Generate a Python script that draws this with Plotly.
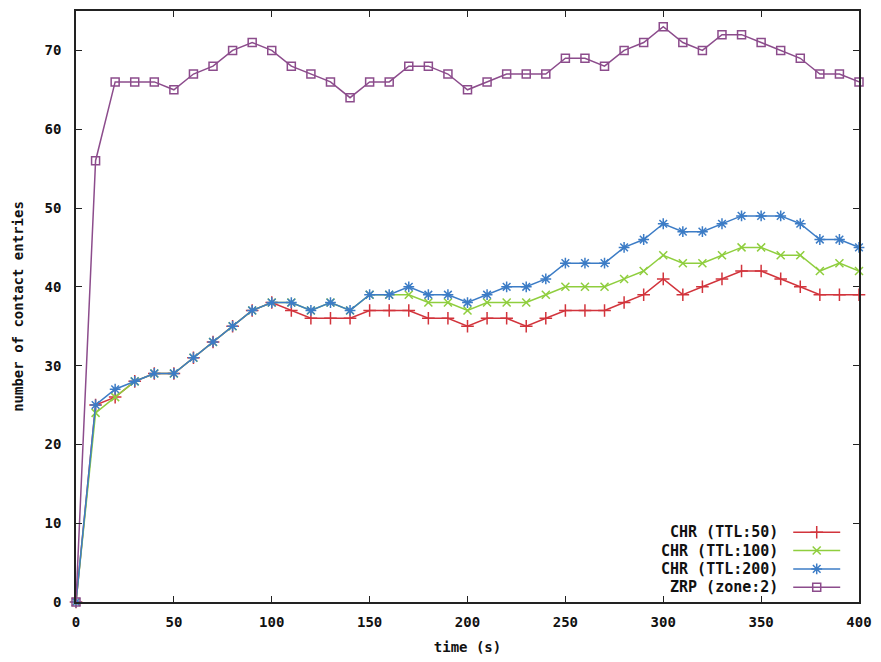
import plotly.graph_objects as go

# ---- data ----
time_s = [0, 10, 20, 30, 40, 50, 60, 70, 80, 90, 100, 110, 120, 130, 140, 150, 160, 170, 180, 190, 200,
          210, 220, 230, 240, 250, 260, 270, 280, 290, 300, 310, 320, 330, 340, 350, 360, 370, 380, 390, 400]

chr_ttl50 = [0, 25, 26, 28, 29, 29, 31, 33, 35, 37, 38, 37, 36, 36, 36, 37, 37, 37, 36, 36, 35,
             36, 36, 35, 36, 37, 37, 37, 38, 39, 41, 39, 40, 41, 42, 42, 41, 40, 39, 39, 39]
chr_ttl100 = [0, 24, 26, 28, 29, 29, 31, 33, 35, 37, 38, 38, 37, 38, 37, 39, 39, 39, 38, 38, 37,
              38, 38, 38, 39, 40, 40, 40, 41, 42, 44, 43, 43, 44, 45, 45, 44, 44, 42, 43, 42]
chr_ttl200 = [0, 25, 27, 28, 29, 29, 31, 33, 35, 37, 38, 38, 37, 38, 37, 39, 39, 40, 39, 39, 38,
              39, 40, 40, 41, 43, 43, 43, 45, 46, 48, 47, 47, 48, 49, 49, 49, 48, 46, 46, 45]
zrp_zone2 = [0, 56, 66, 66, 66, 65, 67, 68, 70, 71, 70, 68, 67, 66, 64, 66, 66, 68, 68, 67, 65,
             66, 67, 67, 67, 69, 69, 68, 70, 71, 73, 71, 70, 72, 72, 71, 70, 69, 67, 67, 66]

series_names = ["CHR (TTL:50)", "CHR (TTL:100)", "CHR (TTL:200)", "ZRP (zone:2)"]
x_ticks = [0, 50, 100, 150, 200, 250, 300, 350, 400]
y_ticks = [0, 10, 20, 30, 40, 50, 60, 70]

# ---- styles ----
FONT = "DejaVu Sans Mono"
colors = ["#d2343c", "#8fce3e", "#3c7cc6", "#8c4c8c"]
symbols = ["cross-thin", "x-thin", "asterisk", "square-open"]
msizes = [9, 8, 9, 8]
values = [chr_ttl50, chr_ttl100, chr_ttl200, zrp_zone2]

fig = go.Figure()

for name, vals, c, s, ms in zip(series_names, values, colors, symbols, msizes):
    fig.add_trace(go.Scatter(
        x=time_s, y=vals, mode="lines+markers", name=name,
        line=dict(color=c, width=1.5),
        marker=dict(symbol=s, size=ms, color=c, line=dict(color=c, width=1.5)),
        cliponaxis=False, showlegend=False,
    ))

# ---- manual gnuplot-style legend (text left, sample right) ----
leg_rows = [0.118, 0.087, 0.056, 0.025]
for name, c, s, ms, yy in zip(series_names, colors, symbols, msizes, leg_rows):
    fig.add_trace(go.Scatter(
        x=[0.916, 0.946, 0.976], y=[yy, yy, yy], xaxis="x2", yaxis="y2",
        mode="lines", line=dict(color=c, width=1.5), showlegend=False, hoverinfo="skip",
    ))
    fig.add_trace(go.Scatter(
        x=[0.946], y=[yy], xaxis="x2", yaxis="y2",
        mode="markers", marker=dict(symbol=s, size=ms, color=c, line=dict(color=c, width=1.5)),
        showlegend=False, hoverinfo="skip",
    ))
    fig.add_annotation(
        x=0.899, y=yy, xref="x2", yref="y2", text=name, showarrow=False,
        xanchor="right", yanchor="middle",
        font=dict(family=FONT, size=15, color="#111111", weight="bold"),
    )

axis_common = dict(
    showline=True, linecolor="#222222", linewidth=1.6, mirror="ticks",
    ticks="inside", ticklen=6, tickwidth=1.4, tickcolor="#222222",
    showgrid=False, zeroline=False,
    tickfont=dict(family=FONT, size=14, color="#111111", weight="bold"),
)

fig.update_layout(
    width=881, height=662,
    margin=dict(l=76, r=20, t=9, b=59),
    paper_bgcolor="white", plot_bgcolor="white",
    xaxis=dict(range=[0, 400], tickvals=x_ticks, ticktext=[str(v) for v in x_ticks],
               ticklabelstandoff=6,
               title=dict(text="time (s)", standoff=14,
                          font=dict(family=FONT, size=14, color="#111111", weight="bold")),
               **axis_common),
    yaxis=dict(range=[0, 75], tickvals=y_ticks, ticktext=[str(v) for v in y_ticks],
               ticklabelstandoff=10,
               title=dict(text="number of contact entries", standoff=18,
                          font=dict(family=FONT, size=14, color="#111111", weight="bold")),
               **axis_common),
    xaxis2=dict(overlaying="x", range=[0, 1], visible=False, fixedrange=True),
    yaxis2=dict(overlaying="y", range=[0, 1], visible=False, fixedrange=True),
    showlegend=False,
)

fig.write_html("out.html")
